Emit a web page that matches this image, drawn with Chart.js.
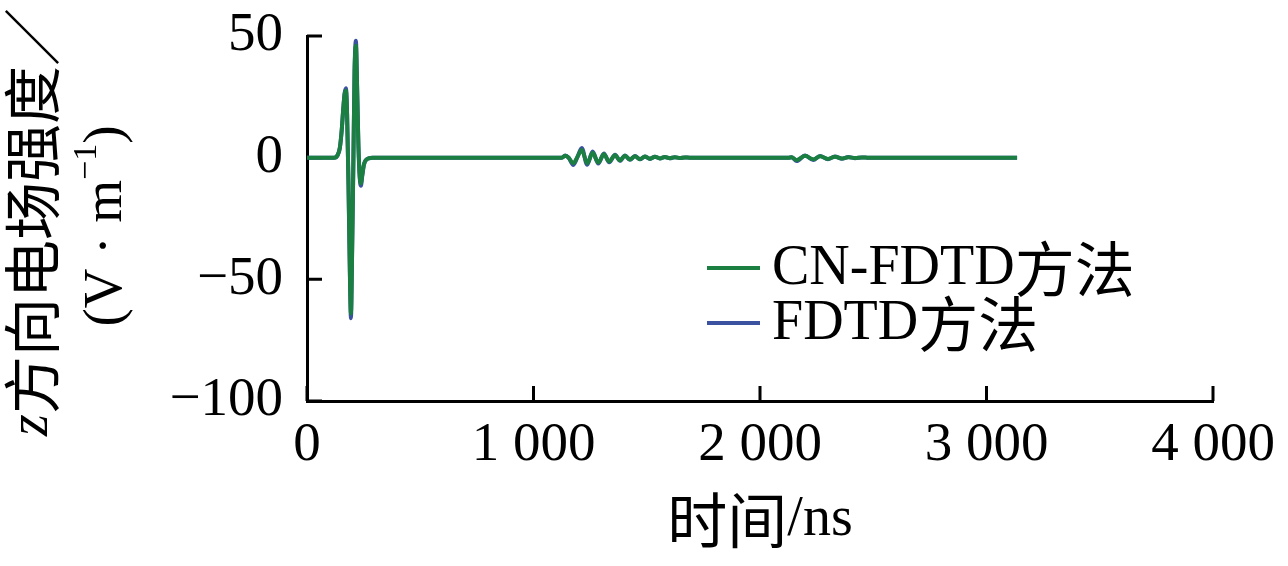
<!DOCTYPE html>
<html>
<head>
<meta charset="utf-8">
<title>z方向电场强度 - CN-FDTD / FDTD</title>
<script src="https://cdn.jsdelivr.net/npm/chart.js"></script>
<style>
    html, body { margin: 0; padding: 0; background: #fff; }
    canvas { display: block; }
</style>
</head>
<body>
<canvas id="fieldChart" width="1288" height="566"></canvas>

<script>
    // data (time in ns, field in V/m)
    const seriesLabels = ['CN-FDTD方法', 'FDTD方法'];
    const seriesColors = ['#1a7f40', '#3b52a0'];

    const timeNs = [
        0, 120, 135, 145, 153, 160, 166, 172, 177, 183, 189, 194, 199, 205, 210, 216, 221, 227, 233, 238, 244, 251, 260, 272, 290,
        1100, 1125, 1140, 1155, 1176, 1195, 1213, 1237, 1261, 1286, 1311, 1334, 1360, 1382, 1404, 1426, 1448, 1470, 1492, 1514,
        1536, 1558, 1580, 1602, 1624, 1646, 1668, 1690, 1720,
        2100, 2125, 2140, 2162, 2199, 2235, 2265, 2300, 2331, 2362, 2390, 2420, 2450, 2480, 2510, 3135
    ];
    const cnFdtd = [
        0, 0, 1, 4, 11, 20, 26, 27.5, 18, -10, -45, -64, -40, 0, 35, 46, 30, 5, -8, -10.5, -7, -3, -1, -0.3, 0,
        0, 0, 0.8, 0, -2.3, 0.5, 3.2, -2.3, 2.0, -2.0, 1.4, -1.6, 1.0, -1.1, 0.8, -0.8, 0.6, -0.6, 0.5, -0.4,
        0.4, -0.3, 0.3, -0.2, 0.2, -0.15, 0.1, 0, 0,
        0, 0, 0.2, -1.0, 0.8, -0.7, 0.6, -0.5, 0.4, -0.35, 0.2, -0.15, 0.1, -0.05, 0, 0
    ];
    const fdtd = [
        0, 0, 1, 4, 11, 20, 26.5, 28.5, 18, -10, -46, -66, -40, 0, 36, 48, 30, 5, -8.5, -11.5, -7.5, -3, -1, -0.3, 0,
        0, 0, 0.9, 0, -3.0, 0.5, 4.0, -2.9, 2.5, -2.4, 1.7, -1.9, 1.2, -1.3, 0.9, -0.9, 0.7, -0.7, 0.5, -0.5,
        0.4, -0.35, 0.3, -0.25, 0.2, -0.15, 0.1, 0, 0,
        0, 0, 0.2, -1.4, 0.9, -1.0, 0.7, -0.7, 0.5, -0.45, 0.25, -0.2, 0.1, -0.05, 0, 0
    ];

    const xTicks = [0, 1000, 2000, 3000, 4000];
    const xTickLabels = ['0', '1 000', '2 000', '3 000', '4 000'];
    const yTicks = [50, 0, -50, -100];
    const yTickLabels = ['50', '0', '−50', '−100'];

    const serif = '"Liberation Serif", "Noto Sans CJK SC", serif';
    const latin = '"Liberation Serif", serif';
    const cjk = '"Noto Sans CJK SC", sans-serif';

    // draw a row of differently styled text runs, rotated by angle, centered on (cx, cy)
    function drawRuns(ctx, runs, cx, cy, angle) {
        let total = 0;
        runs.forEach(r => {
            ctx.font = r.font;
            r.w = ctx.measureText(r.text).width;
            total += r.w;
        });
        ctx.save();
        ctx.translate(cx, cy);
        ctx.rotate(angle);
        ctx.textAlign = 'left';
        ctx.textBaseline = 'middle';
        ctx.fillStyle = '#000';
        let pos = -total / 2;
        runs.forEach(r => {
            ctx.font = r.font;
            ctx.fillText(r.text, pos, r.dy || 0);
            pos += r.w;
        });
        ctx.restore();
    }

    // split a label into latin / cjk runs
    function labelRuns(text, latinSize, cjkSize) {
        const runs = [];
        for (const ch of text) {
            const isCjk = /[\u3000-\u9fff\uff00-\uffef]/.test(ch);
            const font = isCjk ? cjkSize + 'px ' + cjk : latinSize + 'px ' + latin;
            const last = runs[runs.length - 1];
            if (last && last.font === font) last.text += ch;
            else runs.push({ text: ch, font: font });
        }
        return runs;
    }

    const decorations = {
        id: 'decorations',
        beforeDatasetsDraw(chart) {
            // inward tick marks
            const ctx = chart.ctx;
            const area = chart.chartArea;
            const xs = chart.scales.x, ys = chart.scales.y;
            ctx.save();
            ctx.strokeStyle = '#000';
            ctx.lineWidth = 3;
            ctx.beginPath();
            yTicks.forEach(v => {
                const py = ys.getPixelForValue(v);
                ctx.moveTo(area.left, py);
                ctx.lineTo(area.left + 15, py);
            });
            xTicks.forEach(v => {
                const px = xs.getPixelForValue(v);
                ctx.moveTo(px, area.bottom);
                ctx.lineTo(px, area.bottom - 15);
            });
            ctx.stroke();
            ctx.restore();
        },
        afterDraw(chart) {
            const ctx = chart.ctx;
            const area = chart.chartArea;

            // y axis title, two rotated lines
            drawRuns(ctx, [
                { text: 'z', font: 'italic 56px ' + latin },
                { text: '方向电场强度／', font: '58px ' + cjk }
            ], 32, 222, -Math.PI / 2);
            drawRuns(ctx, [
                { text: '(V · m', font: '55px ' + latin },
                { text: '−1', font: '34px ' + latin, dy: -20 },
                { text: ')', font: '55px ' + latin }
            ], 107, 226, -Math.PI / 2);

            // x axis title
            drawRuns(ctx, labelRuns('时间/ns', 56, 60), (area.left + area.right) / 2, 520, 0);

            // legend inside the plot
            const rowsY = [268, 323];
            chart.data.datasets.forEach((ds, i) => {
                ctx.save();
                ctx.strokeStyle = ds.borderColor;
                ctx.lineWidth = 4;
                ctx.beginPath();
                ctx.moveTo(707, rowsY[i]);
                ctx.lineTo(760, rowsY[i]);
                ctx.stroke();
                ctx.restore();
                const runs = labelRuns(ds.label, 56, 60);
                let w = 0;
                runs.forEach(r => { ctx.font = r.font; w += ctx.measureText(r.text).width; });
                drawRuns(ctx, runs, 772 + w / 2, rowsY[i] + 1, 0);
            });
        }
    };

    const ctx = document.getElementById('fieldChart').getContext('2d');

    const chart = new Chart(ctx, {
        type: 'line',
        data: {
            datasets: [
                {
                    label: seriesLabels[0],
                    data: timeNs.map((t, i) => ({ x: t, y: cnFdtd[i] })),
                    borderColor: seriesColors[0],
                    backgroundColor: seriesColors[0]
                },
                {
                    label: seriesLabels[1],
                    data: timeNs.map((t, i) => ({ x: t, y: fdtd[i] })),
                    borderColor: seriesColors[1],
                    backgroundColor: seriesColors[1]
                }
            ]
        },
        options: {
            responsive: false,
            animation: false,
            layout: {
                padding: { top: 36, right: 75, bottom: 0, left: 0 }
            },
            elements: {
                point: { radius: 0 },
                line: { borderWidth: 4, cubicInterpolationMode: 'monotone', fill: false }
            },
            plugins: {
                legend: { display: false },
                tooltip: { enabled: false }
            },
            scales: {
                x: {
                    type: 'linear',
                    min: 0,
                    max: 4000,
                    grid: { display: false, drawTicks: false },
                    border: { display: true, color: '#000', width: 3 },
                    ticks: {
                        stepSize: 1000,
                        autoSkip: false,
                        maxRotation: 0,
                        padding: 12,
                        color: '#000',
                        font: { family: serif, size: 55 },
                        callback: (value) => {
                            const k = xTicks.indexOf(value);
                            return k >= 0 ? xTickLabels[k] : '';
                        }
                    },
                    afterFit: (scale) => {
                        scale.height = 165;
                        scale.paddingLeft = 0;
                        scale.paddingRight = 0;
                    }
                },
                y: {
                    min: -100,
                    max: 50,
                    grid: { display: false, drawTicks: false },
                    border: { display: true, color: '#000', width: 3 },
                    ticks: {
                        stepSize: 50,
                        padding: 24,
                        color: '#000',
                        font: { family: serif, size: 55 },
                        callback: (value) => {
                            const k = yTicks.indexOf(value);
                            return k >= 0 ? yTickLabels[k] : '';
                        }
                    },
                    afterFit: (scale) => {
                        scale.width = 307;
                        scale.paddingTop = 0;
                        scale.paddingBottom = 0;
                    }
                }
            }
        },
        plugins: [decorations]
    });
</script>
</body>
</html>
